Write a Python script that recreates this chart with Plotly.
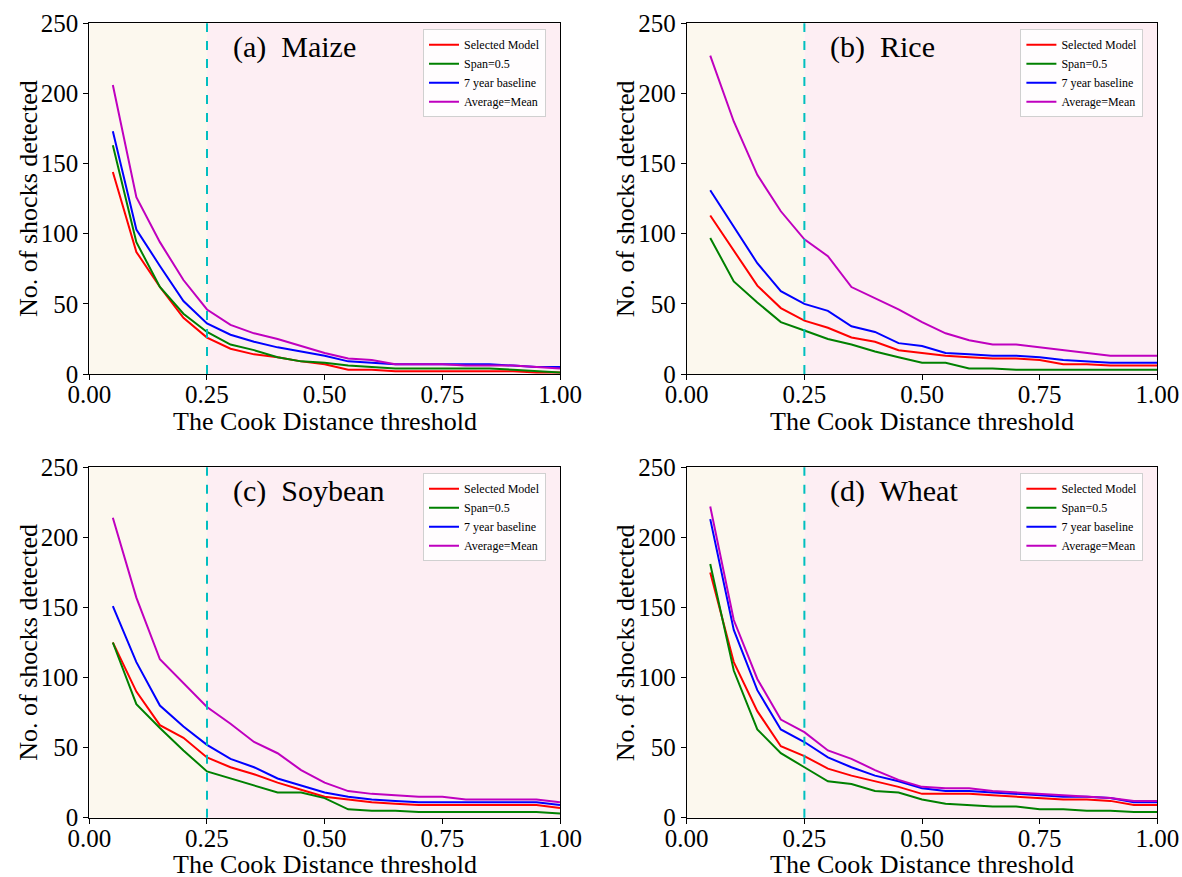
import plotly.graph_objects as go

thresholds = [0.05, 0.10, 0.15, 0.20, 0.25, 0.30, 0.35, 0.40, 0.45, 0.50,
              0.55, 0.60, 0.65, 0.70, 0.75, 0.80, 0.85, 0.90, 0.95, 1.00]

series_names = ["Selected Model", "Span=0.5", "7 year baseline", "Average=Mean"]
series_colors = ["#ff0000", "#008000", "#0000ff", "#bf00bf"]

panel_titles = ["(a)  Maize", "(b)  Rice", "(c)  Soybean", "(d)  Wheat"]

maize_selected = [144, 87, 62, 40, 26, 18, 14, 12, 9, 7, 3, 3, 2, 2, 2, 2, 2, 2, 1, 1]
maize_span = [163, 94, 62, 43, 30, 21, 17, 12, 9, 8, 6, 5, 4, 4, 4, 4, 4, 3, 2, 1]
maize_baseline = [173, 103, 77, 52, 36, 28, 23, 19, 16, 13, 9, 8, 7, 7, 7, 7, 7, 6, 5, 5]
maize_mean = [206, 126, 94, 67, 46, 35, 29, 25, 20, 15, 11, 10, 7, 7, 7, 6, 6, 6, 5, 4]

rice_selected = [113, 88, 63, 47, 38, 33, 26, 23, 17, 15, 13, 12, 11, 11, 10, 7, 7, 6, 6, 6]
rice_span = [97, 66, 51, 37, 31, 25, 21, 16, 12, 8, 8, 4, 4, 3, 3, 3, 3, 3, 3, 3]
rice_baseline = [131, 105, 79, 59, 50, 45, 34, 30, 22, 20, 15, 14, 13, 13, 12, 10, 9, 8, 8, 8]
rice_mean = [227, 180, 142, 116, 96, 84, 62, 54, 46, 37, 29, 24, 21, 21, 19, 17, 15, 13, 13, 13]

soy_selected = [125, 90, 66, 57, 43, 36, 31, 25, 20, 15, 13, 11, 10, 9, 9, 9, 9, 9, 9, 7]
soy_span = [125, 81, 64, 48, 33, 28, 23, 18, 18, 14, 6, 5, 5, 4, 4, 4, 4, 4, 4, 3]
soy_baseline = [151, 111, 80, 65, 52, 42, 36, 28, 23, 18, 15, 13, 12, 11, 11, 11, 11, 11, 11, 9]
soy_mean = [214, 157, 113, 96, 79, 67, 54, 46, 34, 25, 19, 17, 16, 15, 15, 13, 13, 13, 13, 11]

wheat_selected = [175, 111, 76, 51, 44, 35, 30, 26, 22, 17, 17, 17, 16, 15, 14, 13, 13, 12, 9, 9]
wheat_span = [181, 105, 63, 46, 36, 26, 24, 19, 18, 13, 10, 9, 8, 8, 6, 6, 5, 5, 4, 4]
wheat_baseline = [213, 134, 91, 63, 54, 43, 36, 30, 26, 21, 19, 19, 18, 17, 16, 15, 15, 14, 11, 11]
wheat_mean = [222, 141, 99, 70, 61, 48, 42, 34, 27, 22, 21, 21, 19, 18, 17, 16, 15, 14, 12, 12]

panels = [
    [maize_selected, maize_span, maize_baseline, maize_mean],
    [rice_selected, rice_span, rice_baseline, rice_mean],
    [soy_selected, soy_span, soy_baseline, soy_mean],
    [wheat_selected, wheat_span, wheat_baseline, wheat_mean],
]

cut_threshold = 0.25
x_ticks = [0.0, 0.25, 0.5, 0.75, 1.0]
y_ticks = [0, 50, 100, 150, 200, 250]

W, H = 1182, 877
FONT = "Liberation Serif, Times New Roman, serif"

# plot-area pixel boxes (left, right, top, bottom)
boxes = [
    (89.3, 560.0, 23.3, 374.0),
    (686.7, 1157.4, 23.3, 374.0),
    (89.3, 560.0, 467.3, 817.7),
    (686.7, 1157.4, 467.3, 817.7),
]

fig = go.Figure()
layout = dict(
    width=W, height=H,
    margin=dict(l=0, r=0, t=0, b=0, autoexpand=False),
    paper_bgcolor="white",
    plot_bgcolor="white",
    font=dict(family=FONT, color="black"),
    shapes=[], annotations=[],
)

for i, (vals, box) in enumerate(zip(panels, boxes)):
    n = "" if i == 0 else str(i + 1)
    xa, ya = "x" + n, "y" + n
    leg = "legend" + n
    l, r, t, b = box
    xdom = [l / W, r / W]
    ydom = [1 - b / H, 1 - t / H]
    for name, color, v in zip(series_names, series_colors, vals):
        fig.add_trace(go.Scatter(
            x=thresholds, y=v, mode="lines", name=name,
            line=dict(color=color, width=2),
            xaxis=xa, yaxis=ya, legend=leg, showlegend=True,
        ))
    axis_common = dict(
        showline=True, linecolor="black", linewidth=1, mirror=True,
        ticks="outside", ticklen=5, tickwidth=1, tickcolor="black",
        showgrid=False, zeroline=False, automargin=False,
        tickfont=dict(family=FONT, size=25, color="black"),
    )
    layout["xaxis" + n] = dict(
        axis_common, domain=xdom, range=[0, 1], tickvals=x_ticks,
        tickformat=".2f", anchor=ya, ticklabelstandoff=-7,
    )
    layout["yaxis" + n] = dict(
        axis_common, domain=ydom, range=[0, 250], tickvals=y_ticks,
        anchor=xa,
    )
    # background spans
    layout["shapes"].append(dict(
        type="rect", xref=xa, yref=ya + " domain", x0=0, x1=cut_threshold,
        y0=0, y1=1, fillcolor="#fcf8ee", line=dict(width=0), layer="below"))
    layout["shapes"].append(dict(
        type="rect", xref=xa, yref=ya + " domain", x0=cut_threshold, x1=1,
        y0=0, y1=1, fillcolor="#fdeef3", line=dict(width=0), layer="below"))
    layout["shapes"].append(dict(
        type="line", xref=xa, yref=ya + " domain", x0=cut_threshold,
        x1=cut_threshold, y0=0, y1=1,
        line=dict(color="#00bfbf", width=2, dash="dash"), layer="above"))
    # panel title
    layout["annotations"].append(dict(
        text=panel_titles[i], xref=xa, yref=ya, x=0.30, y=233,
        xanchor="left", yanchor="middle", showarrow=False,
        font=dict(family=FONT, size=30, color="black")))
    # axis titles
    layout["annotations"].append(dict(
        text="The Cook Distance threshold", xref="paper", yref="paper",
        x=(l + r) / 2 / W, y=1 - (b + 47) / H, xanchor="center",
        yanchor="middle", showarrow=False,
        font=dict(family=FONT, size=26, color="black")))
    layout["annotations"].append(dict(
        text="No. of shocks detected", xref="paper", yref="paper",
        x=(l - 61) / W, y=1 - (t + b) / 2 / H, xanchor="center",
        yanchor="middle", textangle=-90, showarrow=False,
        font=dict(family=FONT, size=26, color="black")))
    layout[leg] = dict(
        x=(r - 137) / W, y=1 - (t + 6) / H, xanchor="left", yanchor="top",
        bgcolor="rgba(255,255,255,0.85)", bordercolor="#d0d0d0",
        borderwidth=1, font=dict(family=FONT, size=12, color="black"),
        itemwidth=30, tracegroupgap=0,
    )

fig.update_layout(**layout)
fig.write_html(
    "out.html",
    config={"displayModeBar": False},
    post_script="document.body.style.margin='0';document.body.style.overflow='hidden';",
)
